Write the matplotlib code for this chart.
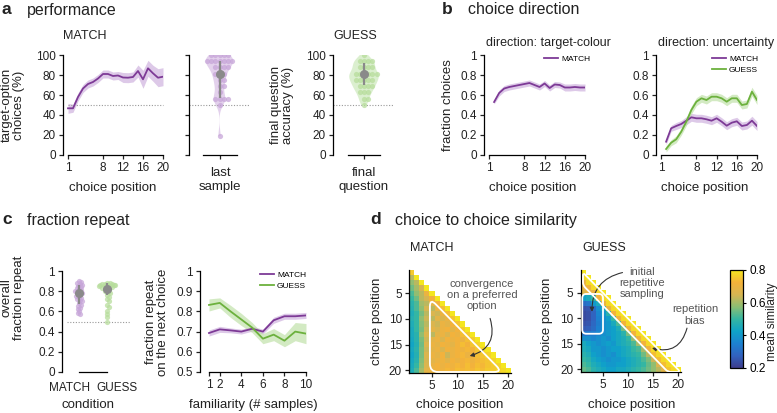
import matplotlib
matplotlib.use('Agg')
import matplotlib.pyplot as plt
import numpy as np
from matplotlib.colors import LinearSegmentedColormap
from matplotlib.path import Path
from matplotlib.patches import PathPatch

plt.rcParams['font.family'] = ['Liberation Sans', 'DejaVu Sans']
plt.rcParams['font.size'] = 8

# ---- data ----
choice_pos = list(range(1, 21))
target_match = [46.7, 46.7, 58, 66.5, 71, 73, 76.5, 81, 81, 79, 79.5, 77.5, 77.3, 78, 84, 75.7, 86.7, 81.7, 77.3, 78.3]
target_match_err = [5, 4, 4, 4, 4, 4, 4, 4, 4, 4, 4, 5, 5, 5, 6, 9, 8, 8, 9, 9]

last_sample = [100, 100, 100, 100, 100, 94, 94, 94, 94, 94, 94, 94, 88, 88, 88, 88,
               81, 81, 81, 75, 75, 69, 69, 63, 56, 56, 56, 56, 50, 19]
last_sample_mean, last_sample_lo, last_sample_hi = 81, 57, 94

final_question = [100, 94, 94, 94, 94, 88, 88, 88, 88, 81, 81, 81, 81, 81, 81,
                  75, 75, 75, 75, 75, 69, 69, 69, 69, 63, 63, 63, 56, 56, 50]
final_question_mean, final_question_lo, final_question_hi = 81, 70, 92

dir_pos = list(range(2, 21))
colour_match = [0.53, 0.62, 0.665, 0.68, 0.69, 0.70, 0.71, 0.72, 0.70, 0.68, 0.715, 0.67,
                0.705, 0.70, 0.675, 0.675, 0.68, 0.675, 0.675]
colour_match_err = [0.02, 0.03, 0.03, 0.03, 0.03, 0.03, 0.03, 0.03, 0.03, 0.03, 0.03, 0.03,
                    0.03, 0.03, 0.035, 0.035, 0.035, 0.035, 0.035]
uncert_match = [0.133, 0.267, 0.29, 0.31, 0.343, 0.377, 0.367, 0.367, 0.357, 0.343, 0.367,
                0.333, 0.293, 0.323, 0.337, 0.29, 0.30, 0.343, 0.29]
uncert_guess = [0.06, 0.123, 0.157, 0.233, 0.333, 0.45, 0.533, 0.567, 0.55, 0.583, 0.583,
                0.567, 0.533, 0.567, 0.567, 0.50, 0.51, 0.633, 0.55]
uncert_err = [0.03, 0.03, 0.035, 0.035, 0.04, 0.04, 0.04, 0.04, 0.04, 0.04, 0.04,
              0.04, 0.04, 0.04, 0.04, 0.04, 0.04, 0.045, 0.045]

repeat_match = [0.90, 0.89, 0.88, 0.87, 0.86, 0.85, 0.84, 0.83, 0.82, 0.81, 0.80, 0.80, 0.79,
                0.78, 0.77, 0.76, 0.75, 0.74, 0.73, 0.72, 0.71, 0.70, 0.68, 0.66, 0.65,
                0.63, 0.62, 0.60, 0.58, 0.57]
repeat_guess = [0.88, 0.88, 0.87, 0.87, 0.87, 0.86, 0.86, 0.86, 0.85, 0.85, 0.85, 0.84, 0.84,
                0.83, 0.82, 0.81, 0.80, 0.79, 0.78, 0.76, 0.74, 0.72, 0.70, 0.66, 0.64,
                0.60, 0.57, 0.54, 0.50]
repeat_match_mean, repeat_match_lo, repeat_match_hi = 0.78, 0.67, 0.86
repeat_guess_mean, repeat_guess_lo, repeat_guess_hi = 0.82, 0.76, 0.88

familiarity = [1, 2, 3, 4, 5, 6, 7, 8, 9, 10]
next_match = [0.693, 0.711, 0.706, 0.70, 0.714, 0.70, 0.756, 0.776, 0.776, 0.78]
next_match_err = [0.015, 0.015, 0.012, 0.012, 0.012, 0.012, 0.015, 0.015, 0.015, 0.015]
next_guess = [0.832, 0.842, 0.80, 0.76, 0.72, 0.665, 0.685, 0.655, 0.70, 0.69]
next_guess_err = [0.03, 0.025, 0.03, 0.03, 0.025, 0.025, 0.03, 0.03, 0.045, 0.05]

sim_match_rows = [
    [0.76],
    [0.62, 0.80],
    [0.58, 0.62, 0.80],
    [0.55, 0.60, 0.65, 0.80],
    [0.52, 0.58, 0.62, 0.70, 0.80],
    [0.50, 0.55, 0.62, 0.65, 0.72, 0.80],
    [0.48, 0.52, 0.60, 0.62, 0.68, 0.72, 0.80],
    [0.47, 0.52, 0.58, 0.65, 0.62, 0.70, 0.74, 0.80],
    [0.46, 0.50, 0.56, 0.62, 0.66, 0.64, 0.70, 0.74, 0.80],
    [0.47, 0.50, 0.58, 0.64, 0.62, 0.68, 0.66, 0.70, 0.75, 0.80],
    [0.46, 0.50, 0.57, 0.62, 0.66, 0.64, 0.70, 0.68, 0.72, 0.75, 0.80],
    [0.45, 0.50, 0.56, 0.64, 0.68, 0.66, 0.70, 0.72, 0.68, 0.72, 0.76, 0.80],
    [0.45, 0.48, 0.58, 0.66, 0.62, 0.68, 0.70, 0.66, 0.72, 0.70, 0.74, 0.76, 0.80],
    [0.44, 0.48, 0.56, 0.64, 0.68, 0.70, 0.66, 0.72, 0.70, 0.72, 0.70, 0.74, 0.76, 0.80],
    [0.43, 0.47, 0.55, 0.66, 0.70, 0.68, 0.72, 0.70, 0.68, 0.72, 0.74, 0.72, 0.75, 0.77, 0.80],
    [0.44, 0.48, 0.56, 0.64, 0.68, 0.70, 0.66, 0.72, 0.70, 0.72, 0.71, 0.73, 0.72, 0.75, 0.77, 0.80],
    [0.43, 0.47, 0.56, 0.66, 0.70, 0.68, 0.72, 0.64, 0.70, 0.72, 0.73, 0.70, 0.72, 0.74, 0.75, 0.77, 0.80],
    [0.44, 0.48, 0.57, 0.65, 0.68, 0.70, 0.71, 0.68, 0.72, 0.70, 0.72, 0.73, 0.71, 0.73, 0.74, 0.75, 0.77, 0.80],
    [0.45, 0.50, 0.58, 0.66, 0.70, 0.72, 0.70, 0.72, 0.71, 0.73, 0.72, 0.74, 0.72, 0.74, 0.73, 0.75, 0.76, 0.77, 0.80],
    [0.46, 0.52, 0.60, 0.68, 0.70, 0.72, 0.71, 0.73, 0.72, 0.74, 0.73, 0.74, 0.73, 0.75, 0.74, 0.76, 0.76, 0.77, 0.78, 0.80],
]
sim_guess_rows = [
    [0.80],
    [0.78, 0.80],
    [0.70, 0.78, 0.80],
    [0.68, 0.72, 0.78, 0.80],
    [0.66, 0.70, 0.70, 0.78, 0.80],
    [0.42, 0.45, 0.50, 0.72, 0.78, 0.80],
    [0.30, 0.32, 0.40, 0.45, 0.70, 0.78, 0.80],
    [0.24, 0.25, 0.30, 0.38, 0.45, 0.70, 0.78, 0.80],
    [0.23, 0.24, 0.28, 0.36, 0.40, 0.48, 0.72, 0.78, 0.80],
    [0.23, 0.24, 0.28, 0.35, 0.38, 0.42, 0.50, 0.72, 0.78, 0.80],
    [0.24, 0.25, 0.29, 0.34, 0.38, 0.40, 0.45, 0.52, 0.72, 0.78, 0.80],
    [0.26, 0.27, 0.30, 0.35, 0.38, 0.40, 0.42, 0.46, 0.55, 0.72, 0.78, 0.80],
    [0.32, 0.33, 0.34, 0.36, 0.38, 0.40, 0.42, 0.44, 0.48, 0.56, 0.72, 0.78, 0.80],
    [0.38, 0.38, 0.36, 0.38, 0.40, 0.38, 0.42, 0.44, 0.46, 0.50, 0.58, 0.72, 0.78, 0.80],
    [0.45, 0.42, 0.40, 0.38, 0.40, 0.42, 0.40, 0.44, 0.46, 0.48, 0.52, 0.60, 0.72, 0.78, 0.80],
    [0.46, 0.44, 0.40, 0.40, 0.38, 0.40, 0.42, 0.42, 0.44, 0.46, 0.50, 0.52, 0.60, 0.72, 0.78, 0.80],
    [0.48, 0.46, 0.42, 0.40, 0.38, 0.40, 0.38, 0.42, 0.44, 0.46, 0.48, 0.50, 0.55, 0.62, 0.74, 0.78, 0.80],
    [0.50, 0.48, 0.44, 0.42, 0.40, 0.38, 0.40, 0.40, 0.42, 0.44, 0.46, 0.48, 0.52, 0.56, 0.64, 0.74, 0.78, 0.80],
    [0.52, 0.50, 0.46, 0.44, 0.42, 0.40, 0.40, 0.42, 0.42, 0.44, 0.46, 0.48, 0.50, 0.54, 0.58, 0.66, 0.74, 0.78, 0.80],
    [0.54, 0.52, 0.48, 0.46, 0.44, 0.42, 0.42, 0.44, 0.44, 0.46, 0.48, 0.50, 0.52, 0.55, 0.58, 0.62, 0.68, 0.75, 0.78, 0.80],
]

# ---- style ----
PURPLE = '#7d3a96'
PURPLE_L = '#c7a6d9'
GREEN = '#6cb13d'
GREEN_L = '#b7dd9c'
GREY = '#8a8a8a'
TXT = '#222222'
parula = LinearSegmentedColormap.from_list(
    'parula', [(0.0, '#3d3c8c'), (0.125, '#3162bf'), (0.25, '#1c82d0'), (0.375, '#0fa3c8'),
               (0.5, '#35b6a2'), (0.625, '#8cbe74'), (0.75, '#d7b552'), (0.875, '#f4b23a'),
               (1.0, '#f4e620')])

W, H = 777, 413
fig = plt.figure(figsize=(W / 100, H / 100), dpi=100)


def px_axes(l, t, r, b):
    return fig.add_axes([l / W, 1 - b / H, (r - l) / W, (b - t) / H])


def ftext(x, y, s, **kw):
    kw.setdefault('ha', 'left')
    kw.setdefault('va', 'center')
    kw.setdefault('color', TXT)
    fig.text(x / W, 1 - y / H, s, **kw)


def style(ax, xb=None, yb=None):
    for s in ['top', 'right']:
        ax.spines[s].set_visible(False)
    for s in ['left', 'bottom']:
        ax.spines[s].set_linewidth(0.9)
    if xb is not None:
        ax.spines['bottom'].set_bounds(*xb)
    if yb is not None:
        ax.spines['left'].set_bounds(*yb)
    ax.tick_params(length=3, width=0.9, labelsize=8.5, pad=2, colors=TXT)


def chance(ax, y, x0, x1):
    ax.plot([x0, x1], [y, y], color='#999999', lw=0.8, ls=(0, (1, 1.5)), clip_on=False, zorder=1)


def swarm(vals, px_per_val, d):
    placed, offs = [], []
    for v in vals:
        y = v * px_per_val
        cands = [0.0]
        for py, pxx in placed:
            dy = y - py
            if abs(dy) < d:
                dx = np.sqrt(d * d - dy * dy)
                cands += [pxx + dx, pxx - dx]
        cands.sort(key=abs)
        for c in cands:
            if all((c - pxx) ** 2 + (y - py) ** 2 >= d * d - 1e-6 for py, pxx in placed):
                break
        placed.append((y, c))
        offs.append(c)
    return np.array(offs)


def dots(ax, vals, center, px_per_val, px_per_x, color, d=4.2, max_px=20):
    offs = np.clip(swarm(vals, px_per_val, d), -max_px, max_px) / px_per_x
    ax.scatter(center + offs, vals, s=14, color=color, alpha=0.75, lw=0, zorder=3)


def summary(ax, x, m, lo, hi):
    ax.plot([x, x], [lo, hi], color=GREY, lw=1.6, zorder=4, solid_capstyle='butt')
    ax.plot([x], [m], 'o', color=GREY, ms=5.5, zorder=5)


def rounded_path(pts, r):
    pts = np.asarray(pts, float)
    n = len(pts)
    verts, codes = [], []
    for i in range(n):
        p0, p1, p2 = pts[i - 1], pts[i], pts[(i + 1) % n]
        d1 = (p0 - p1) / np.linalg.norm(p0 - p1)
        d2 = (p2 - p1) / np.linalg.norm(p2 - p1)
        verts.append(p1 + d1 * r)
        codes.append(Path.MOVETO if i == 0 else Path.LINETO)
        verts += [p1, p1 + d2 * r]
        codes += [Path.CURVE3, Path.CURVE3]
    verts.append(verts[0])
    codes.append(Path.CLOSEPOLY)
    return Path(verts, codes)


def outline(ax, pts, r):
    ax.add_patch(PathPatch(rounded_path(pts, r), fill=False, ec='white', lw=1.3, zorder=5))


def arrow(ax, start, end, rad):
    ax.annotate('', xy=end, xytext=start, xycoords='data', textcoords='data',
                annotation_clip=False,
                arrowprops=dict(arrowstyle='-|>', color='#333333', lw=0.8, shrinkA=0, shrinkB=0,
                                mutation_scale=6, connectionstyle='arc3,rad=%s' % rad))


# ---- panel a ----
ftext(2, 10, 'a', fontsize=12.5, fontweight='bold')
ftext(27, 10, 'performance', fontsize=11.5)

ax = px_axes(63, 55, 163, 155)
x = np.array(choice_pos)
m = np.array(target_match)
e = np.array(target_match_err)
ax.fill_between(x, m - e, m + e, color=PURPLE_L, alpha=0.6, lw=0)
ax.plot(x, m, color=PURPLE, lw=1.3)
chance(ax, 50, 1, 20)
ax.set_xlim(0, 20)
ax.set_ylim(0, 100)
ax.set_xticks([1, 8, 12, 16, 20])
ax.set_yticks([0, 20, 40, 60, 80, 100])
style(ax, xb=(1, 20))
ftext(63, 36, 'MATCH', fontsize=9)
ftext(113, 188, 'choice position', fontsize=9.5, ha='center')
ftext(13, 105, 'target-option\nchoices (%)', fontsize=9.5, ha='center', rotation=90,
      linespacing=1.05)

ax = px_axes(189, 55, 250, 155)
vp = ax.violinplot([last_sample], positions=[1], widths=0.45, showextrema=False, bw_method=0.3)
for b in vp['bodies']:
    b.set_facecolor('#dcc6e8')
    b.set_alpha(0.8)
    b.set_edgecolor('none')
dots(ax, last_sample, 1, 1.0, 61, PURPLE_L)
summary(ax, 1, last_sample_mean, last_sample_lo, last_sample_hi)
chance(ax, 50, 0.5, 1.5)
ax.set_xlim(0.5, 1.5)
ax.set_ylim(0, 100)
ax.set_xticks([1])
ax.set_xticklabels([])
ax.set_yticks([0, 20, 40, 60, 80, 100])
ax.set_yticklabels([])
style(ax, xb=(0.73, 1.29))
ftext(220, 180, 'last\nsample', fontsize=9.5, ha='center', linespacing=1.15)

ax = px_axes(333, 55, 392, 155)
vp = ax.violinplot([final_question], positions=[1], widths=0.5, showextrema=False, bw_method=0.35)
for b in vp['bodies']:
    b.set_facecolor('#d3ecc4')
    b.set_alpha(0.8)
    b.set_edgecolor('none')
dots(ax, final_question, 1, 1.0, 59, GREEN_L)
summary(ax, 1, final_question_mean, final_question_lo, final_question_hi)
chance(ax, 50, 0.475, 1.5)
ax.set_xlim(0.475, 1.475)
ax.set_ylim(0, 100)
ax.set_xticks([1])
ax.set_xticklabels([])
ax.set_yticks([0, 20, 40, 60, 80, 100])
style(ax, xb=(0.73, 1.27))
ftext(333, 36, 'GUESS', fontsize=9)
ftext(364, 180, 'final\nquestion', fontsize=9.5, ha='center', linespacing=1.15)
ftext(282, 105, 'final question\naccuracy (%)', fontsize=9.5, ha='center', rotation=90,
      linespacing=1.05)

# ---- panel b ----
ftext(442, 10, 'b', fontsize=12.5, fontweight='bold')
ftext(468, 10, 'choice direction', fontsize=11.5)

ax = px_axes(484, 55, 585, 155)
x = np.array(dir_pos)
m = np.array(colour_match)
e = np.array(colour_match_err)
ax.fill_between(x, m - e, m + e, color=PURPLE_L, alpha=0.6, lw=0)
ax.plot(x, m, color=PURPLE, lw=1.3, label='MATCH')
ax.set_xlim(0, 20)
ax.set_ylim(0, 1)
ax.set_xticks([1, 8, 12, 16, 20])
ax.set_yticks([0, 0.2, 0.4, 0.6, 0.8, 1])
ax.set_yticklabels(['0', '0.2', '0.4', '0.6', '0.8', '1'])
style(ax, xb=(1, 20))
ax.legend(loc='upper right', bbox_to_anchor=(1.05, 1.0), fontsize=6, frameon=False,
          handlelength=1.6, handletextpad=0.4, borderpad=0, borderaxespad=0)
ftext(548, 43, 'direction: target-colour', fontsize=9, ha='center')
ftext(533, 188, 'choice position', fontsize=9.5, ha='center')
ftext(448, 105, 'fraction choices', fontsize=9.5, ha='center', rotation=90)

ax = px_axes(656, 55, 757, 155)
e = np.array(uncert_err)
for vals, c, cl, lab in [(uncert_match, PURPLE, PURPLE_L, 'MATCH'),
                         (uncert_guess, GREEN, GREEN_L, 'GUESS')]:
    m = np.array(vals)
    ax.fill_between(x, m - e, m + e, color=cl, alpha=0.6, lw=0)
    ax.plot(x, m, color=c, lw=1.3, label=lab)
ax.set_xlim(0, 20)
ax.set_ylim(0, 1)
ax.set_xticks([1, 8, 12, 16, 20])
ax.set_yticks([0, 0.2, 0.4, 0.6, 0.8, 1])
ax.set_yticklabels(['0', '0.2', '0.4', '0.6', '0.8', '1'])
style(ax, xb=(1, 20))
ax.legend(loc='upper right', bbox_to_anchor=(1.01, 1.0), fontsize=6, frameon=False,
          handlelength=1.6, handletextpad=0.4, borderpad=0, borderaxespad=0, labelspacing=0.35)
ftext(716, 43, 'direction: uncertainty', fontsize=9, ha='center')
ftext(705, 188, 'choice position', fontsize=9.5, ha='center')

# ---- panel c ----
ftext(2, 220, 'c', fontsize=12.5, fontweight='bold')
ftext(27, 220, 'fraction repeat', fontsize=11.5)

ax = px_axes(62, 271, 130, 372)
dots(ax, repeat_match, 1, 101, 28, PURPLE_L, d=2.6, max_px=8)
dots(ax, repeat_guess, 2, 101, 28, GREEN_L, d=2.6, max_px=8)
summary(ax, 1, repeat_match_mean, repeat_match_lo, repeat_match_hi)
summary(ax, 2, repeat_guess_mean, repeat_guess_lo, repeat_guess_hi)
chance(ax, 0.5, 0.57, 2.82)
ax.set_xlim(0.39, 2.82)
ax.set_ylim(0, 1)
ax.set_xticks([])
ax.set_yticks([0, 0.2, 0.4, 0.6, 0.8, 1])
ax.set_yticklabels(['0', '0.2', '0.4', '0.6', '0.8', '1'])
style(ax, xb=(1, 2))
ftext(70, 388, 'MATCH', fontsize=8.5, ha='center')
ftext(117, 388, 'GUESS', fontsize=8.5, ha='center')
ftext(88, 405, 'condition', fontsize=9.5, ha='center')
ftext(13, 298, 'overall\nfraction repeat', fontsize=9.5, ha='center', rotation=90,
      linespacing=1.05)

ax = px_axes(200, 271, 306, 372)
x = np.array(familiarity)
for vals, err, c, cl, lab in [(next_match, next_match_err, PURPLE, PURPLE_L, 'MATCH'),
                              (next_guess, next_guess_err, GREEN, GREEN_L, 'GUESS')]:
    m = np.array(vals)
    e = np.array(err)
    ax.fill_between(x, m - e, m + e, color=cl, alpha=0.6, lw=0)
    ax.plot(x, m, color=c, lw=1.3, label=lab)
ax.set_xlim(0.165, 10)
ax.set_ylim(0.5, 1)
ax.set_xticks([1, 2, 4, 6, 8, 10])
ax.set_yticks([0.5, 0.6, 0.7, 0.8, 0.9, 1])
ax.set_yticklabels(['0.5', '0.6', '0.7', '0.8', '0.9', '1'])
style(ax, xb=(1, 10))
ax.legend(loc='upper right', bbox_to_anchor=(1.0, 1.0), fontsize=6, frameon=False,
          handlelength=1.6, handletextpad=0.4, borderpad=0, borderaxespad=0, labelspacing=0.35)
ftext(253, 405, 'familiarity (# samples)', fontsize=9.5, ha='center')
ftext(157, 322, 'fraction repeat\non the next choice', fontsize=9.5, ha='center', rotation=90,
      linespacing=1.05)

# ---- panel d ----
ftext(370, 220, 'd', fontsize=12.5, fontweight='bold')
ftext(395, 220, 'choice to choice similarity', fontsize=11.5)


def heat(ax, rows):
    mat = np.full((20, 20), np.nan)
    for i, r in enumerate(rows):
        mat[i, :len(r)] = r
    edges = np.arange(0.5, 21, 1)
    im = ax.pcolormesh(edges, edges, np.ma.masked_invalid(mat), cmap=parula, vmin=0.2, vmax=0.8,
                       shading='flat')
    ax.set_xlim(0.5, 20.5)
    ax.set_ylim(20.5, 0.5)
    ax.set_xticks([5, 10, 15, 20])
    ax.set_yticks([5, 10, 15, 20])
    style(ax)
    return im


ax = px_axes(409, 270, 511, 373)
heat(ax, sim_match_rows)
outline(ax, [(4.6, 6.0), (4.6, 20.3), (18.8, 20.3)], 1.6)
arrow(ax, (16.4, 9.9), (12.4, 17.2), -0.5)
ftext(410, 248, 'MATCH', fontsize=9)
ftext(482, 295, 'convergence\non a preferred\noption', fontsize=8, ha='center', color='#555555',
      linespacing=1.15)
ftext(460, 405, 'choice position', fontsize=9.5, ha='center')
ftext(377, 321, 'choice position', fontsize=9.5, ha='center', rotation=90)

ax = px_axes(580.5, 270, 680.5, 372)
im = heat(ax, sim_guess_rows)
outline(ax, [(0.85, 5.2), (0.85, 13.0), (5.0, 13.0), (5.0, 5.2)], 0.8)
outline(ax, [(1.0, 1.0), (1.0, 3.5), (18.0, 20.5), (20.5, 20.5)], 0.6)
arrow(ax, (8.9, 1.0), (2.8, 8.7), 0.4)
arrow(ax, (21.8, 11.9), (14.8, 15.8), -0.5)
ftext(582, 248, 'GUESS', fontsize=9)
ftext(642, 283, 'initial\nrepetitive\nsampling', fontsize=8, ha='center', color='#555555',
      linespacing=1.15)
ftext(695, 315, 'repetition\nbias', fontsize=8, ha='center', color='#555555', linespacing=1.15)
ftext(632, 405, 'choice position', fontsize=9.5, ha='center')
ftext(547, 321, 'choice position', fontsize=9.5, ha='center', rotation=90)

cax = px_axes(730, 270, 743, 368)
cb = fig.colorbar(im, cax=cax, ticks=[0.2, 0.4, 0.6, 0.8])
cb.outline.set_linewidth(0.9)
cax.tick_params(length=2.5, width=0.8, labelsize=8.5, pad=2)
cax.set_yticklabels(['0.2', '0.4', '0.6', '0.8'])
ftext(772, 322, 'mean similarity', fontsize=8.5, ha='center', rotation=90)

fig.savefig('out.png', dpi=100)
